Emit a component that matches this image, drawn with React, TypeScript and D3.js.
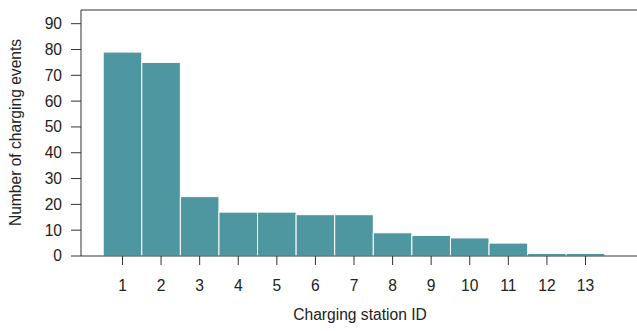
import React from "react";
import * as d3 from "d3";

const stations = [1, 2, 3, 4, 5, 6, 7, 8, 9, 10, 11, 12, 13];
const events = [79, 75, 23, 17, 17, 16, 16, 9, 8, 7, 5, 1, 1];
const yTicks = [0, 10, 20, 30, 40, 50, 60, 70, 80, 90];

export default function App() {
  const W = 637, H = 331;
  const left = 81, right = 640, top = 10, bottom = 256;
  const x = d3.scaleLinear().domain([0.5, 13.5]).range([103.2, 604.8]);
  const y = d3.scaleLinear().domain([0, 95.3]).range([bottom, top]);
  const font = "'Liberation Sans', Arial, Helvetica, sans-serif";
  const fs = 15.6;
  return (
    <svg width={W} height={H} style={{ position: "absolute", left: 0, top: 0, background: "#fff" }} fontFamily={font}>
      {stations.map((s, i) => (
        <rect key={s} x={x(s - 0.5)} y={y(events[i])} width={x(s + 0.5) - x(s - 0.5)} height={y(0) - y(events[i])}
          fill="#4E96A0" stroke="#fff" strokeWidth={1} />
      ))}
      <line x1={left} x2={right} y1={top} y2={top} stroke="#333" strokeWidth={1} />
      <line x1={left} x2={left} y1={top} y2={bottom} stroke="#333" strokeWidth={1} />
      <line x1={left} x2={right} y1={bottom} y2={bottom} stroke="#333" strokeWidth={1} />
      {yTicks.map((t) => (
        <g key={t}>
          <line x1={71} x2={left} y1={y(t)} y2={y(t)} stroke="#333" strokeWidth={1} />
          <text x={62} y={y(t)} dy="0.35em" textAnchor="end" fontSize={fs} fill="#222">{t}</text>
        </g>
      ))}
      {stations.map((s) => (
        <g key={s}>
          <line x1={x(s)} x2={x(s)} y1={bottom} y2={265} stroke="#333" strokeWidth={1} />
          <text x={x(s)} y={290.5} textAnchor="middle" fontSize={fs} fill="#222">{s}</text>
        </g>
      ))}
      <text x={360} y={320} textAnchor="middle" fontSize={fs} fill="#222">Charging station ID</text>
      <text transform={`translate(21,132.5) rotate(-90)`} textAnchor="middle" fontSize={fs} fill="#222">Number of charging events</text>
    </svg>
  );
}
